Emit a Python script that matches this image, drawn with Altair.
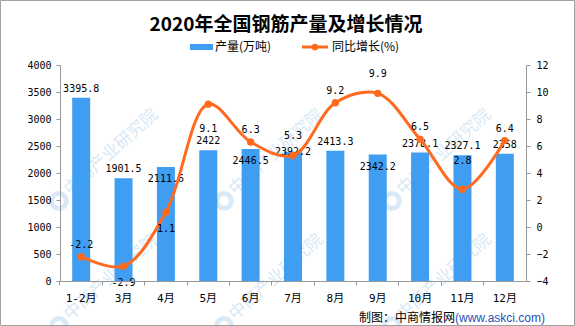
import altair as alt
import pandas as pd

# ---- data ----
months = ["1-2月", "3月", "4月", "5月", "6月", "7月", "8月", "9月", "10月", "11月", "12月"]
output = [3395.8, 1901.5, 2111.6, 2422, 2446.5, 2392.2, 2413.3, 2342.2, 2378.1, 2327.1, 2358]
growth = [-2.2, -2.9, 1.1, 9.1, 6.3, 5.3, 9.2, 9.9, 6.5, 2.8, 6.4]
left_ticks = [0, 500, 1000, 1500, 2000, 2500, 3000, 3500, 4000]
right_ticks = [-4, -2, 0, 2, 4, 6, 8, 10, 12]

# label placement (style only)
bar_label_side = ["up", "up", "down", "up", "down", "mid", "up", "down", "up", "up", "up"]
line_label_side = ["up", "down", "down", "down2", "up", "up2", "up", "up2", "up", "up3", "up"]

df = pd.DataFrame({
    "month": months,
    "output": output,
    "growth": growth,
    "out_label": [f"{v:g}" for v in output],
    "gr_label": [f"{v:g}" for v in growth],
    "bside": bar_label_side,
    "lside": line_label_side,
})

MONO = "DejaVu Sans Mono, Noto Sans CJK SC"
CJK = "Noto Sans CJK SC"
BLUE = "#409EF2"
ORANGE = "#FF6A1F"
AXIS = "#999999"

W, H = 466, 216
PAD = {"left": 60, "top": 65, "right": 49, "bottom": 45}

x = alt.X(
    "month:N", sort=months,
    scale=alt.Scale(paddingInner=0, paddingOuter=0),
    axis=alt.Axis(title=None, labelAngle=0, bandPosition=0, tickSize=4, zindex=1,
                  domainColor=AXIS, tickColor=AXIS, labelFont=MONO,
                  labelFontSize=11, labelColor="#000", labelPadding=7),
)

y_left = alt.Y(
    "output:Q", scale=alt.Scale(domain=[0, 4000], nice=False),
    axis=alt.Axis(values=left_ticks, format="d", title=None, grid=False, tickSize=4, zindex=1,
                  domainColor=AXIS, tickColor=AXIS, labelFont=MONO,
                  labelFontSize=10, labelColor="#000", labelPadding=5),
)

y_right = alt.Y(
    "growth:Q", scale=alt.Scale(domain=[-4, 12], nice=False),
    axis=alt.Axis(orient="right", values=right_ticks, format="d", title=None, grid=False,
                  tickSize=4, zindex=1, domainColor=AXIS, tickColor=AXIS, labelFont=MONO,
                  labelFontSize=10, labelColor="#000", labelPadding=6),
)

base = alt.Chart(df)

# ---- watermark (decoration behind the chart) ----
wm_cols = [7, 172, 340]
wm_rows = [127, 252]
wm = pd.DataFrame([{"px": c, "py": r, "t": "中商产业研究院"} for c in wm_cols for r in wm_rows])
wm_text = alt.Chart(wm).mark_text(
    font=CJK, fontSize=17, color="#D9E9F6", align="left", baseline="middle", angle=318
).encode(x=alt.X("px:Q", scale=None), y=alt.Y("py:Q", scale=None), text="t:N")
wm_logo = alt.Chart(wm).mark_point(
    shape="circle", size=220, strokeWidth=5, color="#D9E9F6", filled=False, opacity=1
).encode(x=alt.X("lx:Q", scale=None), y=alt.Y("ly:Q", scale=None)).transform_calculate(
    lx="datum.px - 8", ly="datum.py + 9"
)
wm_layer = alt.layer(wm_logo, wm_text)

bars = base.mark_bar(size=18, color=BLUE).encode(x=x, y=y_left)


def side_text(label, side_field, side, dy, y_enc):
    return base.transform_filter(alt.datum[side_field] == side).mark_text(
        font=MONO, fontSize=10, color="#000", baseline="middle", dy=dy
    ).encode(x=x, y=y_enc, text=f"{label}:N")


bar_layer = alt.layer(
    bars,
    side_text("out_label", "bside", "up", -9, y_left),
    side_text("out_label", "bside", "down", 12, y_left),
    side_text("out_label", "bside", "mid", 0, y_left),
)

line = base.mark_line(color=ORANGE, strokeWidth=3, interpolate="catmull-rom").encode(x=x, y=y_right)
pts = base.mark_point(filled=True, color=ORANGE, size=55, opacity=1).encode(x=x, y=y_right)
line_layer = alt.layer(
    line, pts,
    side_text("gr_label", "lside", "up", -12, y_right),
    side_text("gr_label", "lside", "up2", -19, y_right),
    side_text("gr_label", "lside", "up3", -28, y_right),
    side_text("gr_label", "lside", "down", 17, y_right),
    side_text("gr_label", "lside", "down2", 25, y_right),
)

# ---- decorations: title, legend, footer, frame ----
def txt(s, px, py, **kw):
    return alt.Chart(pd.DataFrame({"t": [s]})).mark_text(**kw).encode(
        text="t:N", x=alt.value(px), y=alt.value(py))

title = txt("2020年全国钢筋产量及增长情况", 226, -40, font=CJK, fontSize=19,
            fontWeight="bold", color="#000", align="center", baseline="middle")

leg_rect = alt.Chart(pd.DataFrame({"a": [0]})).mark_rect(color=BLUE).encode(
    x=alt.value(130), x2=alt.value(153), y=alt.value(-21), y2=alt.value(-15))
leg_t1 = txt("产量(万吨)", 155, -18, font=CJK, fontSize=12, color="#000",
             align="left", baseline="middle")
leg_line = alt.Chart(pd.DataFrame({"a": [0]})).mark_rule(color=ORANGE, strokeWidth=3).encode(
    x=alt.value(242), x2=alt.value(268), y=alt.value(-18))
leg_dot = alt.Chart(pd.DataFrame({"a": [0]})).mark_point(filled=True, color=ORANGE, size=45, opacity=1).encode(
    x=alt.value(255), y=alt.value(-18))
leg_t2 = txt("同比增长(%)", 272, -18, font=CJK, fontSize=12, color="#000",
             align="left", baseline="middle")

foot1 = txt("制图：中商情报网", 395, 253, font=CJK, fontSize=12, color="#000",
            align="right", baseline="middle")
foot2 = txt("(www.askci.com)", 395, 253, font="Liberation Sans", fontSize=12,
            color="#1F4FB8", align="left", baseline="middle")

frame = alt.Chart(pd.DataFrame({"a": [0]})).mark_rect(fill=None, stroke="#A0A0A0", strokeWidth=1).encode(
    x=alt.value(-59.5), x2=alt.value(514.5), y=alt.value(-64.5), y2=alt.value(260.5))

chart = alt.layer(
    wm_layer, bar_layer, line_layer,
    title, leg_rect, leg_t1, leg_line, leg_dot, leg_t2, foot1, foot2, frame,
).resolve_scale(y="independent").properties(
    width=W, height=H, padding=PAD,
    autosize=alt.AutoSizeParams(type="none"),
    background="white",
).configure_view(stroke=None)

chart.save("out.html", embed_options={"renderer": "svg", "actions": False})
